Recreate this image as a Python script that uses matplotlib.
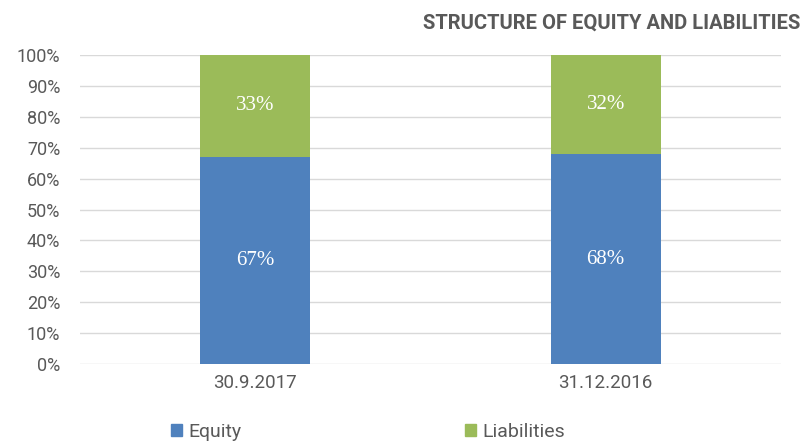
import matplotlib
matplotlib.use("Agg")
import matplotlib.pyplot as plt
from matplotlib.patches import Patch

categories = ["30.9.2017", "31.12.2016"]
equity = [67, 68]
liabilities = [33, 32]
yticks = [0, 10, 20, 30, 40, 50, 60, 70, 80, 90, 100]

c_eq = "#4F81BD"
c_li = "#9BBB59"
grey = "#595959"

plt.rcParams['font.family'] = ['Roboto', 'DejaVu Sans']

fig = plt.figure(figsize=(8.06, 4.43), dpi=100)
ax = fig.add_axes([0.099, 0.178, 0.870, 0.698])

x = list(range(len(categories)))
w = 0.313
ax.bar(x, equity, width=w, color=c_eq, zorder=3)
ax.bar(x, liabilities, width=w, bottom=equity, color=c_li, zorder=3)

for i in x:
    ax.text(i, equity[i] / 2, f"{equity[i]}%", ha="center", va="center",
            color="white", fontsize=15, family="Liberation Serif", zorder=4)
    ax.text(i, equity[i] + liabilities[i] / 2, f"{liabilities[i]}%", ha="center", va="center",
            color="white", fontsize=15, family="Liberation Serif", zorder=4)

ax.set_xlim(-0.5, 1.5)
ax.set_ylim(0, 100)
ax.set_yticks(yticks)
ax.set_yticklabels([f"{t}%" for t in yticks], color=grey, fontsize=13)
ax.set_xticks(x)
ax.set_xticklabels(categories, color=grey, fontsize=13.5)
ax.tick_params(axis="x", length=0, pad=7)
ax.tick_params(axis="y", length=0, pad=14)
ax.grid(axis="y", color="#d9d9d9", linewidth=1, zorder=0)
for s in ax.spines.values():
    s.set_visible(False)

fig.text(0.993, 0.947, "STRUCTURE OF EQUITY AND LIABILITIES", ha="right", va="center",
         color=grey, fontsize=14.5, fontweight="bold")

handles = [Patch(color=c_eq, label="Equity"), Patch(color=c_li, label="Liabilities")]
fig.legend(handles=handles, loc="center", bbox_to_anchor=(0.457, 0.025), ncol=2,
           frameon=False, fontsize=14, labelcolor=grey, handlelength=0.55, handleheight=0.55,
           handletextpad=0.35, columnspacing=11.5)

fig.savefig("out.png", dpi=100)
